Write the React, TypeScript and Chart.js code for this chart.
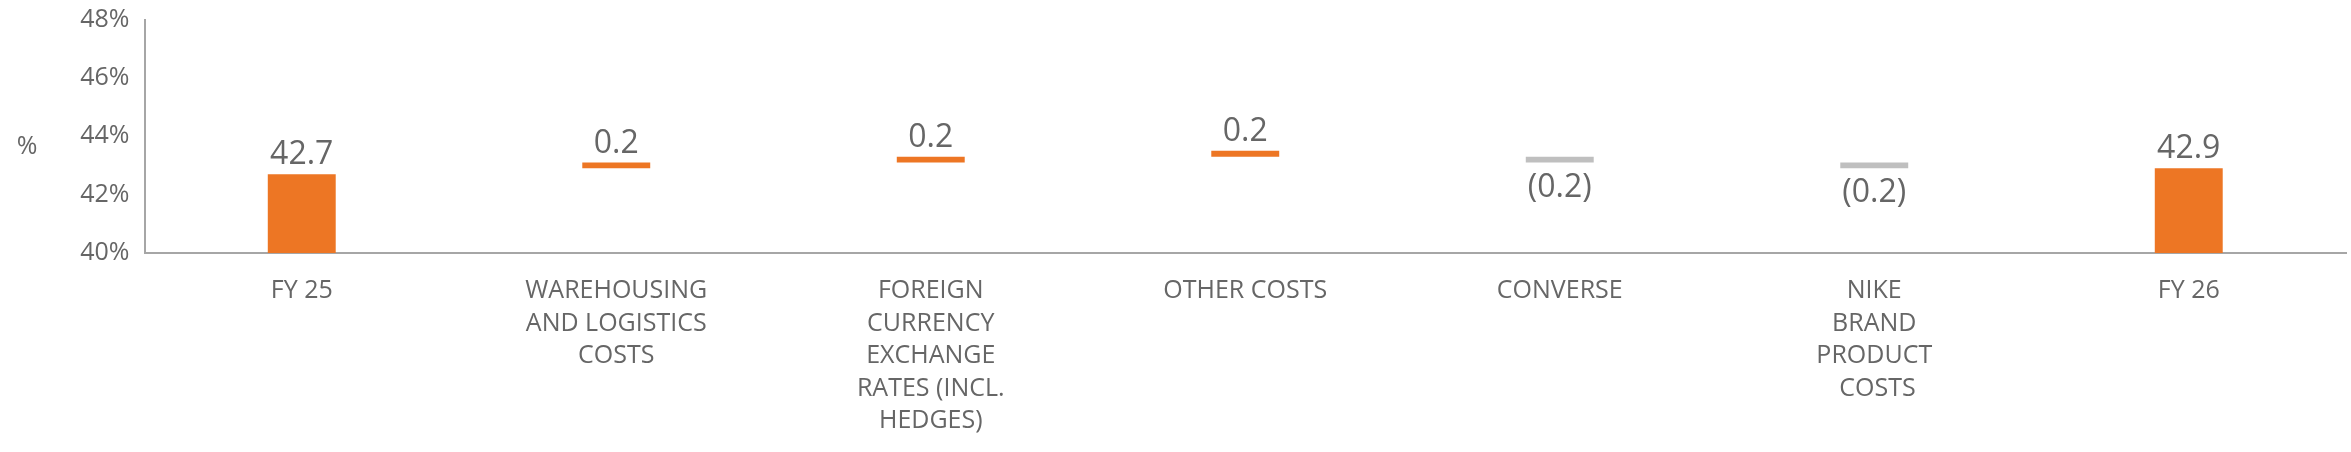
import { useEffect, useRef } from "react";
import { Chart, registerables } from "chart.js";

Chart.register(...registerables);

const categories = [
  ["FY 25"],
  ["WAREHOUSING", "AND LOGISTICS", "COSTS"],
  ["FOREIGN", "CURRENCY", "EXCHANGE", "RATES (INCL.", "HEDGES)"],
  ["OTHER COSTS"],
  ["CONVERSE"],
  ["NIKE", "BRAND", "PRODUCT", " COSTS"],
  ["FY 26"],
];

// floating bars: low / high end of each bar, in % of revenue
const barLow = [40, 42.9, 43.1, 43.3, 43.1, 42.9, 40];
const barHigh = [42.7, 43.1, 43.3, 43.5, 43.3, 43.1, 42.9];
const valueLabels = ["42.7", "0.2", "0.2", "0.2", "(0.2)", "(0.2)", "42.9"];
const isDecrease = [false, false, false, false, true, true, false];

const yTicks = [40, 42, 44, 46, 48];

const ORANGE = "#ED7624";
const GREY_BAR = "#BFBFBF";
const TEXT = "#666666";
const AXIS = "#A6A6A6";
const FONT = "'Open Sans', sans-serif";

export default function App() {
  const chartRef = useRef<HTMLCanvasElement>(null);

  useEffect(() => {
    if (!chartRef.current) return;
    const ctx = chartRef.current.getContext("2d");
    if (!ctx) return;

    // value labels above / below the bars, plus the "%" unit on the left
    const labelPlugin = {
      id: "valueLabels",
      afterDatasetsDraw(chart: any) {
        const c = chart.ctx;
        const meta = chart.getDatasetMeta(0);
        c.save();
        c.fillStyle = TEXT;
        c.textAlign = "center";
        c.font = `32px ${FONT}`;
        meta.data.forEach((bar: any, i: number) => {
          const top = Math.min(bar.y, bar.base);
          const bottom = Math.max(bar.y, bar.base);
          if (isDecrease[i]) {
            c.textBaseline = "top";
            c.fillText(valueLabels[i], bar.x, bottom + 9);
          } else {
            c.textBaseline = "alphabetic";
            c.fillText(valueLabels[i], bar.x, top - 10);
          }
        });
        const area = chart.chartArea;
        c.font = `25px ${FONT}`;
        c.textBaseline = "middle";
        c.fillText("%", 27, (area.top + area.bottom) / 2 + 11);
        c.restore();
      },
    };

    const chart = new Chart(ctx, {
      type: "bar",
      data: {
        labels: categories,
        datasets: [
          {
            data: barLow.map((low, i) => [low, barHigh[i]]),
            backgroundColor: isDecrease.map((d) => (d ? GREY_BAR : ORANGE)),
            borderWidth: 0,
            barPercentage: 0.216,
            categoryPercentage: 1,
          },
        ],
      },
      options: {
        animation: false,
        responsive: true,
        maintainAspectRatio: false,
        layout: {
          padding: { left: 0, right: 5, top: 19.5, bottom: 0 },
        },
        plugins: {
          legend: { display: false },
          tooltip: { enabled: false },
        },
        scales: {
          x: {
            grid: { display: false, drawTicks: false },
            border: { display: true, color: AXIS, width: 2 },
            ticks: {
              color: TEXT,
              padding: 22,
              maxRotation: 0,
              autoSkip: false,
              font: { family: FONT, size: 25, lineHeight: 1.3 },
            },
            afterFit: (scale: any) => {
              scale.height = 199;
            },
          },
          y: {
            min: 40,
            max: 48,
            grid: { display: false, drawTicks: false },
            border: { display: true, color: AXIS, width: 2 },
            afterBuildTicks: (scale: any) => {
              scale.ticks = yTicks.map((v) => ({ value: v }));
            },
            ticks: {
              color: TEXT,
              padding: 15,
              font: { family: FONT, size: 25 },
              callback: (value: any) => `${value}%`,
            },
            afterFit: (scale: any) => {
              scale.width = 144.5;
              scale.paddingTop = 0;
              scale.paddingBottom = 0;
            },
          },
        },
      },
      plugins: [labelPlugin],
    });

    return () => chart.destroy();
  }, []);

  return (
    <div
      style={{
        position: "absolute",
        left: 0,
        top: 0,
        width: 2351,
        height: 452,
        background: "#fff",
      }}
    >
      <canvas ref={chartRef} />
    </div>
  );
}
